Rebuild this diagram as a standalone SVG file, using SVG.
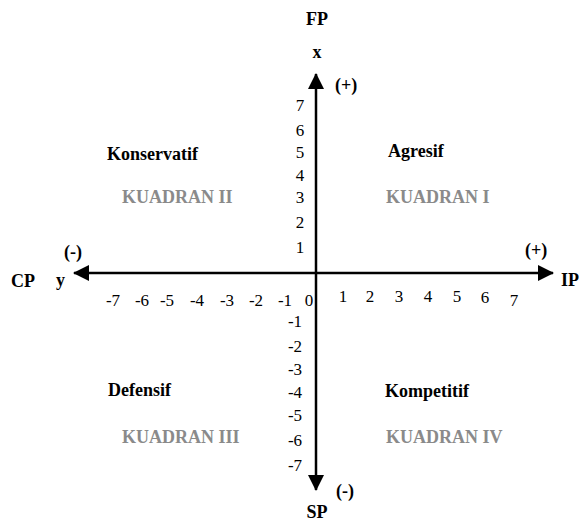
<svg xmlns="http://www.w3.org/2000/svg" width="580" height="524" viewBox="0 0 580 524" font-family="'Liberation Serif', 'Times New Roman', serif">
<style>
text{font-family:"Liberation Serif","Times New Roman",serif;fill:#000}
.b{font-weight:bold;font-size:18px}
.q{font-weight:bold;font-size:18px;fill:#8a8a8a}
.n{font-size:17px;text-anchor:middle}
.m{text-anchor:middle}
.axis{stroke:#000;stroke-width:2.5;fill:none}
</style>
<defs>
<marker id="ah" viewBox="0 0 16 16" refX="15" refY="8" markerWidth="16" markerHeight="16" markerUnits="userSpaceOnUse" orient="auto">
<path d="M0,0 L16,8 L0,16 Z" fill="#000"/>
</marker>
</defs>
<g id="connectors">
<line class="axis" x1="316" y1="273" x2="316" y2="74" marker-end="url(#ah)"/>
<line class="axis" x1="316" y1="273" x2="316" y2="490" marker-end="url(#ah)"/>
<line class="axis" x1="316" y1="273" x2="74" y2="273" marker-end="url(#ah)"/>
<line class="axis" x1="316" y1="273" x2="553" y2="273" marker-end="url(#ah)"/>
</g>
<g id="axis-labels">
<text class="b m" x="317" y="25">FP</text>
<text class="b m" x="317" y="58">x</text>
<text class="b" x="335" y="91">(+)</text>
<text class="b m" x="317" y="518">SP</text>
<text class="b" x="336" y="497">(-)</text>
<text class="b" x="11" y="287">CP</text>
<text class="b" x="56" y="286">y</text>
<text class="b" x="64" y="258">(-)</text>
<text class="b" x="525" y="256">(+)</text>
<text class="b" x="561" y="286">IP</text>
</g>
<g id="y-ticks">
<text class="n" x="300" y="111">7</text>
<text class="n" x="300" y="136">6</text>
<text class="n" x="300" y="158">5</text>
<text class="n" x="300" y="181">4</text>
<text class="n" x="300" y="203">3</text>
<text class="n" x="300" y="228">2</text>
<text class="n" x="300" y="253">1</text>
<text class="n" x="295" y="327">-1</text>
<text class="n" x="295" y="352">-2</text>
<text class="n" x="295" y="375">-3</text>
<text class="n" x="295" y="398">-4</text>
<text class="n" x="295" y="421">-5</text>
<text class="n" x="295" y="446">-6</text>
<text class="n" x="295" y="471">-7</text>
</g>
<g id="x-ticks">
<text class="n" x="113" y="306">-7</text>
<text class="n" x="142" y="306">-6</text>
<text class="n" x="167" y="306">-5</text>
<text class="n" x="197" y="306">-4</text>
<text class="n" x="227" y="306">-3</text>
<text class="n" x="256" y="306">-2</text>
<text class="n" x="285" y="306">-1</text>
<text class="n" x="309" y="306">0</text>
<text class="n" x="343" y="302">1</text>
<text class="n" x="370" y="302">2</text>
<text class="n" x="399" y="302">3</text>
<text class="n" x="428" y="302">4</text>
<text class="n" x="457" y="302">5</text>
<text class="n" x="485" y="303">6</text>
<text class="n" x="514" y="306">7</text>
</g>
<g id="kuadran-1">
<text class="b" x="388" y="157">Agresif</text>
<text class="q" x="386" y="203">KUADRAN I</text>
</g>
<g id="kuadran-2">
<text class="b" x="107" y="160">Konservatif</text>
<text class="q" x="122" y="203">KUADRAN II</text>
</g>
<g id="kuadran-3">
<text class="b" x="108" y="396">Defensif</text>
<text class="q" x="122" y="443">KUADRAN III</text>
</g>
<g id="kuadran-4">
<text class="b" x="385" y="397">Kompetitif</text>
<text class="q" x="386" y="443">KUADRAN IV</text>
</g>
</svg>
